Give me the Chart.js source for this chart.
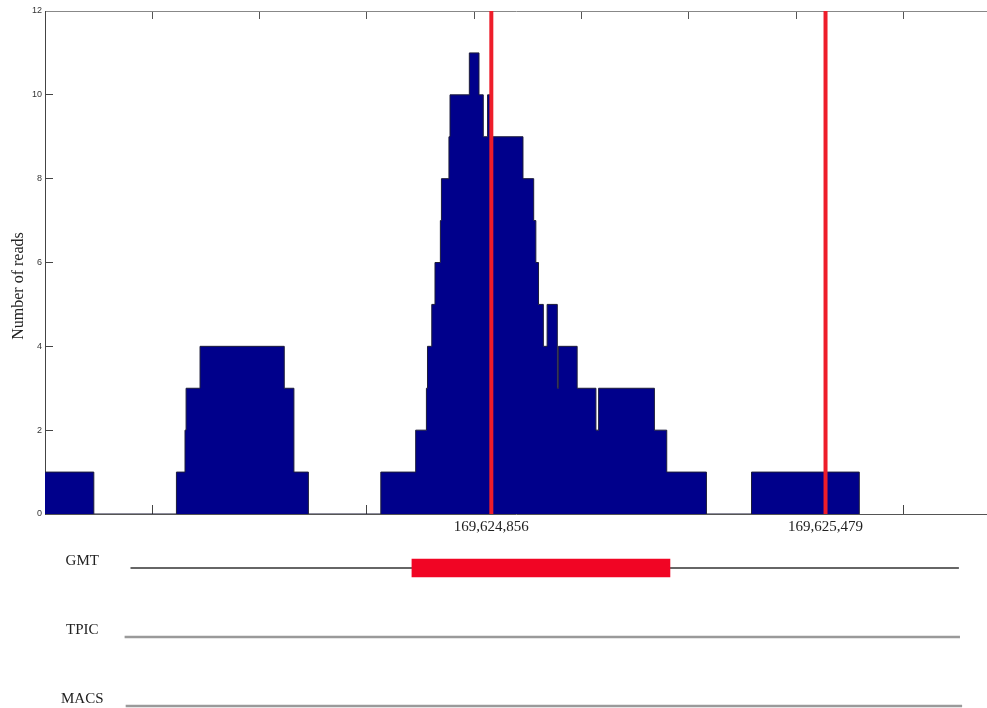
<!DOCTYPE html>
<html>
<head>
<meta charset="utf-8">
<title>Read coverage</title>
<script src="https://cdn.jsdelivr.net/npm/chart.js@4.4.1/dist/chart.umd.min.js"></script>
<style>
  html, body { margin: 0; padding: 0; background: #fff; overflow: hidden; }
  canvas { display: block; }
</style>
</head>
<body>
<canvas id="coverageChart" width="987" height="540"></canvas>
<canvas id="trackChart" width="987" height="168"></canvas>
<script>
// genomic window on the x axis (bp)
const regionStart = 169624024;
const regionEnd = 169625780;
const tickStep = 200;

// read coverage: each count holds from its start position up to the next one
const stepStart = [
    169624024, 169624115,
    169624269, 169624285, 169624287, 169624313, 169624470, 169624488, 169624515,
    169624650, 169624715, 169624735, 169624737, 169624745, 169624751, 169624761,
    169624763, 169624777, 169624779, 169624815, 169624833, 169624841, 169624849,
    169624854, 169624915, 169624935, 169624939, 169624944, 169624953, 169624960,
    169624979, 169624981, 169625016, 169625051, 169625056, 169625160, 169625183,
    169625257,
    169625341, 169625542
];
const readCount = [
    1, 0,
    1, 2, 3, 4, 3, 1, 0,
    1, 2, 3, 4, 5, 6, 7,
    8, 9, 10, 11, 10, 9, 10,
    9, 8, 7, 6, 5, 4, 5,
    3, 4, 3, 2, 3, 2, 1,
    0,
    1, 0
];

// summits marked in red and labelled under the axis
const markerPos = [169624856, 169625479];

const yTicks = [0, 2, 4, 6, 8, 10, 12];

// peak callers: track extent and called peak interval
const trackNames = ['GMT', 'TPIC', 'MACS'];
const trackSpan = [
    [169624184, 169625727],
    [169624173, 169625729],
    [169624175, 169625733]
];
const peakCalls = [[169624708, 169625189], null, null];

function gridTicks() {
    const ticks = [];
    for (let v = regionStart; v <= regionEnd; v += tickStep) ticks.push(v);
    return ticks;
}

// rotated y title, sits a little below the middle of the axis
const yTitle = {
    id: 'yTitle',
    afterDraw(chart) {
        const ctx = chart.ctx;
        ctx.save();
        ctx.translate(19, 286);
        ctx.rotate(-Math.PI / 2);
        ctx.font = '16px "Liberation Serif"';
        ctx.fillStyle = '#222';
        ctx.textAlign = 'center';
        ctx.textBaseline = 'middle';
        ctx.fillText('Number of reads', 0, 0);
        ctx.restore();
    }
};

const coverage = stepStart.map((x, i) => ({ x: x, y: readCount[i] }));
const markerSets = markerPos.map(p => ({
    type: 'line',
    data: [{ x: p, y: 0 }, { x: p, y: 12 }],
    borderColor: '#ee1d2a',
    borderWidth: 4,
    pointRadius: 0,
    fill: false
}));

new Chart(document.getElementById('coverageChart'), {
    type: 'line',
    data: {
        datasets: [
            ...markerSets,
            {
                data: coverage,
                stepped: 'before',
                fill: 'origin',
                backgroundColor: '#00008b',
                borderColor: '#1c1c3a',
                borderWidth: 1,
                pointRadius: 0
            }
        ]
    },
    options: {
        responsive: false,
        animation: false,
        events: [],
        layout: { padding: 0 },
        plugins: {
            legend: { display: false },
            tooltip: { enabled: false }
        },
        scales: {
            x: {
                type: 'linear',
                position: 'bottom',
                min: regionStart,
                max: regionEnd,
                afterBuildTicks: scale => {
                    scale.ticks = gridTicks().concat(markerPos)
                        .sort((a, b) => a - b)
                        .map(v => ({ value: v }));
                },
                afterFit: scale => {
                    scale.height = 26;
                    scale.paddingLeft = 0;
                    scale.paddingRight = 0;
                },
                border: { color: '#555' },
                grid: {
                    drawOnChartArea: false,
                    tickLength: -9,
                    color: ctx => markerPos.includes(ctx.tick.value) ? 'rgba(0,0,0,0)' : '#444'
                },
                ticks: {
                    autoSkip: false,
                    maxRotation: 0,
                    padding: 13,
                    color: '#222',
                    font: { family: 'Liberation Serif', size: 15 },
                    callback: v => markerPos.includes(v) ? v.toLocaleString('en-US') : ''
                }
            },
            xTop: {
                type: 'linear',
                position: 'top',
                min: regionStart,
                max: regionEnd,
                afterBuildTicks: scale => {
                    scale.ticks = gridTicks().map(v => ({ value: v }));
                },
                afterFit: scale => {
                    scale.height = 11;
                    scale.paddingLeft = 0;
                    scale.paddingRight = 0;
                },
                border: { color: '#888' },
                grid: { drawOnChartArea: false, tickLength: -8, color: '#555' },
                ticks: { display: false }
            },
            y: {
                min: 0,
                max: 12,
                afterBuildTicks: scale => {
                    scale.ticks = yTicks.map(v => ({ value: v }));
                },
                afterFit: scale => {
                    scale.width = 45;
                    scale.paddingTop = 0;
                    scale.paddingBottom = 0;
                },
                border: { color: '#444' },
                grid: { drawOnChartArea: false, tickLength: -8, color: '#444' },
                ticks: {
                    padding: 11,
                    color: '#333',
                    font: { family: 'Liberation Sans', size: 9 }
                }
            }
        }
    },
    plugins: [yTitle]
});

new Chart(document.getElementById('trackChart'), {
    type: 'bar',
    data: {
        labels: trackNames,
        datasets: [
            { data: peakCalls, backgroundColor: '#f10524', barThickness: 18 },
            { data: [trackSpan[0], null, null], backgroundColor: '#333', barThickness: 1 },
            { data: [null, trackSpan[1], trackSpan[2]], backgroundColor: '#9a9a9a', barThickness: 2 }
        ]
    },
    options: {
        indexAxis: 'y',
        responsive: false,
        animation: false,
        events: [],
        layout: { padding: { top: 28, bottom: 2 } },
        datasets: { bar: { grouped: false, clip: false } },
        plugins: {
            legend: { display: false },
            tooltip: { enabled: false }
        },
        scales: {
            x: { type: 'linear', min: regionStart, max: regionEnd, display: false },
            y: {
                type: 'category',
                offset: false,
                afterFit: scale => {
                    scale.width = 45;
                    scale.paddingTop = 0;
                    scale.paddingBottom = 0;
                },
                border: { display: false },
                grid: { display: false },
                ticks: {
                    mirror: true,
                    crossAlign: 'center',
                    padding: 16,
                    labelOffset: -7,
                    color: '#222',
                    font: { family: 'Liberation Serif', size: 15 }
                }
            }
        }
    }
});
</script>
</body>
</html>
